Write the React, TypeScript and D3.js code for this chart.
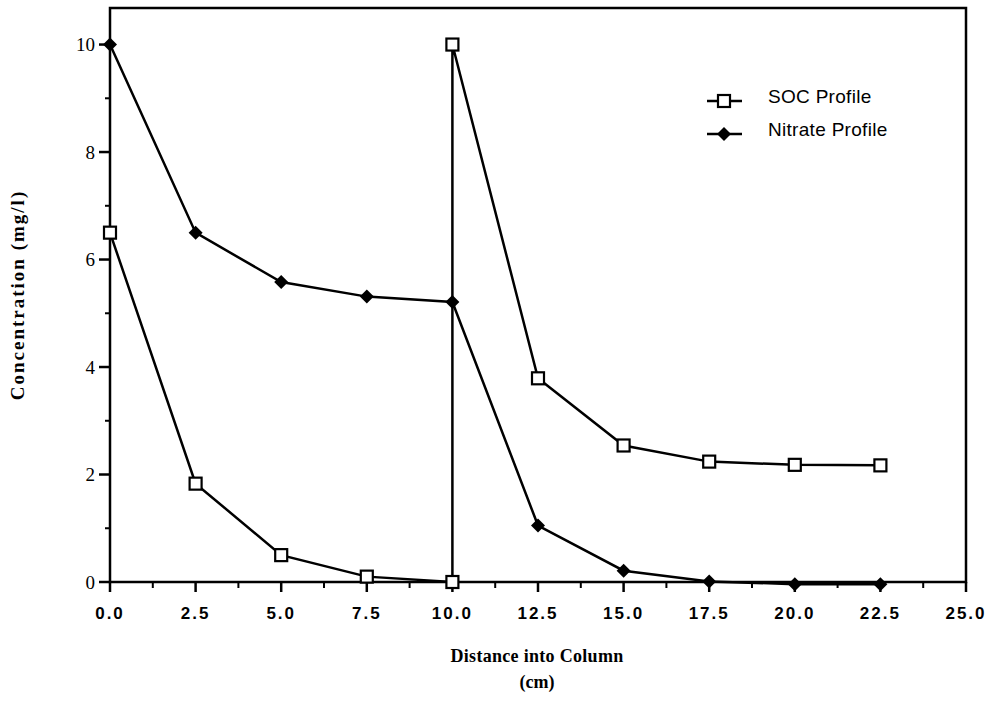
import React from 'react';
import * as d3 from 'd3';

// distance into column (cm) and concentrations (mg/l)
const socX = [0, 2.5, 5, 7.5, 10, 10, 12.5, 15, 17.5, 20, 22.5];
const socY = [6.5, 1.83, 0.5, 0.1, 0.0, 10.0, 3.79, 2.54, 2.24, 2.18, 2.17];
const nitrateX = [0, 2.5, 5, 7.5, 10, 12.5, 15, 17.5, 20, 22.5];
const nitrateY = [10.0, 6.5, 5.58, 5.31, 5.21, 1.05, 0.21, 0.01, -0.04, -0.04];

const xTicks = [0, 2.5, 5, 7.5, 10, 12.5, 15, 17.5, 20, 22.5, 25];
const xMinor = [1.25, 3.75, 6.25, 8.75, 11.25, 13.75, 16.25, 18.75, 21.25, 23.75];
const yTicks = [0, 2, 4, 6, 8, 10];
const yMinor = [1, 3, 5, 7, 9];

const legendItems = ['SOC Profile', 'Nitrate Profile'];

const W = 1004;
const H = 716;

const App: React.FC = () => {
  const margin = { top: 8, right: 38, bottom: 134, left: 110 };
  const x = d3.scaleLinear().domain([0, 25]).range([margin.left, W - margin.right]);
  const y = d3.scaleLinear().domain([0, 10.68]).range([H - margin.bottom, margin.top]);

  const line = d3.line<[number, number]>()
    .x(d => x(d[0]))
    .y(d => y(d[1]));

  const soc: [number, number][] = socX.map((v, i) => [v, socY[i]]);
  const nitrate: [number, number][] = nitrateX.map((v, i) => [v, nitrateY[i]]);

  const square = (cx: number, cy: number, key: string) => (
    <rect key={key} x={cx - 6} y={cy - 6} width={12} height={12}
      fill="#fff" stroke="#000" strokeWidth={2.2} />
  );
  const diamond = (cx: number, cy: number, key: string) => (
    <path key={key} d={`M${cx},${cy - 7}L${cx + 7},${cy}L${cx},${cy + 7}L${cx - 7},${cy}Z`}
      fill="#000" />
  );

  const x0 = x(0), x1 = x(25), y0 = y(0), yTop = margin.top;

  return (
    <svg width={W} height={H} style={{ position: 'absolute', left: 0, top: 0, background: '#fff' }}>
      {/* frame */}
      <rect x={x0} y={yTop} width={x1 - x0} height={y0 - yTop} fill="none" stroke="#000" strokeWidth={2.5} />

      {/* y ticks */}
      {yTicks.map(t => (
        <g key={'yt' + t}>
          <line x1={x0 - 11} x2={x0} y1={y(t)} y2={y(t)} stroke="#000" strokeWidth={2.5} />
          <text x={x0 - 15} y={y(t)} dy="0.35em" textAnchor="end"
            fontFamily="Liberation Serif, serif" fontSize={19}>{t}</text>
        </g>
      ))}
      {yMinor.map(t => (
        <line key={'ym' + t} x1={x0 - 5} x2={x0} y1={y(t)} y2={y(t)} stroke="#000" strokeWidth={2} />
      ))}

      {/* x ticks */}
      {xTicks.map(t => (
        <g key={'xt' + t}>
          <line x1={x(t)} x2={x(t)} y1={y0} y2={y0 + 10} stroke="#000" strokeWidth={2.5} />
          <text x={x(t)} y={y0 + 37} textAnchor="middle" letterSpacing={2}
            fontFamily="Liberation Sans, Arial, sans-serif" fontWeight="bold" fontSize={17}>
            {d3.format('.1f')(t)}
          </text>
        </g>
      ))}
      {xMinor.map(t => (
        <line key={'xm' + t} x1={x(t)} x2={x(t)} y1={y0} y2={y0 + 6} stroke="#000" strokeWidth={2} />
      ))}

      {/* series */}
      <path d={line(soc) || ''} fill="none" stroke="#000" strokeWidth={2.5} />
      <path d={line(nitrate) || ''} fill="none" stroke="#000" strokeWidth={2.5} />
      {nitrate.map((d, i) => diamond(x(d[0]), y(d[1]), 'n' + i))}
      {soc.map((d, i) => square(x(d[0]), y(d[1]), 's' + i))}

      {/* legend */}
      {legendItems.map((name, i) => {
        const ly = 101 + i * 33;
        return (
          <g key={name}>
            <line x1={707} x2={742} y1={ly} y2={ly} stroke="#000" strokeWidth={2.5} />
            {i === 0 ? square(724, ly, 'ls') : diamond(724, ly, 'ld')}
            <text x={768} y={ly} dy="0.1em" fontFamily="Liberation Sans, Arial, sans-serif"
              fontSize={19} letterSpacing={0.3}>
              {name}
            </text>
          </g>
        );
      })}

      {/* axis titles */}
      <text transform={`translate(24,${(yTop + y0) / 2}) rotate(-90)`} textAnchor="middle"
        fontFamily="Liberation Serif, serif" fontWeight="bold" fontSize={19} letterSpacing={2}>
        Concentration (mg/l)
      </text>
      <text x={537} y={662} textAnchor="middle"
        fontFamily="Liberation Serif, serif" fontWeight="bold" fontSize={18} letterSpacing={0.3}>
        Distance into Column
      </text>
      <text x={537} y={688} textAnchor="middle"
        fontFamily="Liberation Serif, serif" fontWeight="bold" fontSize={18}>
        (cm)
      </text>
    </svg>
  );
};

export default App;
